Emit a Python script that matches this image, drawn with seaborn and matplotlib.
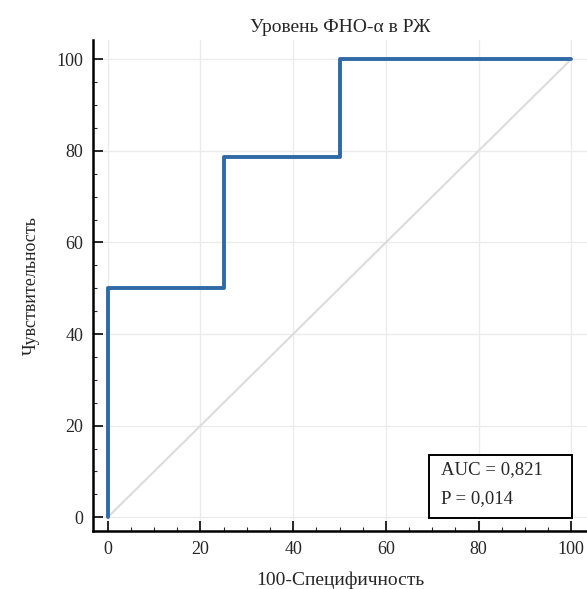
import matplotlib
matplotlib.use("Agg")
import matplotlib.pyplot as plt
import seaborn as sns
import pandas as pd
from matplotlib.ticker import MultipleLocator
from matplotlib.patches import Rectangle

# ROC points (100-specificity vs sensitivity)
fpr = [0, 0, 25, 25, 50, 50, 100]
tpr = [0, 50, 50, 78.6, 78.6, 100, 100]
auc_label = "AUC = 0,821"
p_label = "P = 0,014"

sns.set_style("white")
plt.rcParams['font.family'] = ['Liberation Serif', 'DejaVu Serif']

fig = plt.figure(figsize=(5.87, 5.89), dpi=100)
ax = fig.add_axes([0.1584, 0.0985, 0.8416, 0.8336])

df = pd.DataFrame({"fpr": fpr, "tpr": tpr})

# diagonal reference
ax.plot([0, 100], [0, 100], color="#dcdcdc", lw=1.5, zorder=1)
sns.lineplot(data=df, x="fpr", y="tpr", sort=False, estimator=None, errorbar=None,
             color="#2f6aa6", lw=2.8, ax=ax, zorder=3)

ax.set_xlim(-3.2, 103.4)
ax.set_ylim(-3.0, 104.2)
ax.xaxis.set_major_locator(MultipleLocator(20))
ax.yaxis.set_major_locator(MultipleLocator(20))
ax.xaxis.set_minor_locator(MultipleLocator(5))
ax.yaxis.set_minor_locator(MultipleLocator(5))
ax.grid(True, which="major", color="#ebebeb", lw=1.0)
ax.tick_params(which="major", direction="in", length=7, width=1.4, labelsize=13, pad=7)
ax.tick_params(which="minor", direction="in", length=3, width=0.8)
ax.tick_params(bottom=True, left=True, which="both")
for s in ["top", "right"]:
    ax.spines[s].set_visible(False)
for s in ["left", "bottom"]:
    ax.spines[s].set_color("black")
    ax.spines[s].set_linewidth(1.8)

ax.set_title("Уровень ФНО-α в РЖ", fontsize=14, pad=6)
ax.set_xlabel("100-Специфичность", fontsize=14, labelpad=10)
ax.set_ylabel("Чувствительность", fontsize=13, labelpad=12)

# AUC box in the lower right corner
ax.add_patch(Rectangle((69.3, -0.2), 30.9, 13.7, facecolor="white", edgecolor="black",
                       lw=1.4, zorder=5))
ax.text(71.8, 10.3, auc_label, fontsize=13.5, va="center", ha="left", zorder=6)
ax.text(71.8, 4.0, p_label, fontsize=13.5, va="center", ha="left", zorder=6)

fig.savefig("out.png", dpi=100)
